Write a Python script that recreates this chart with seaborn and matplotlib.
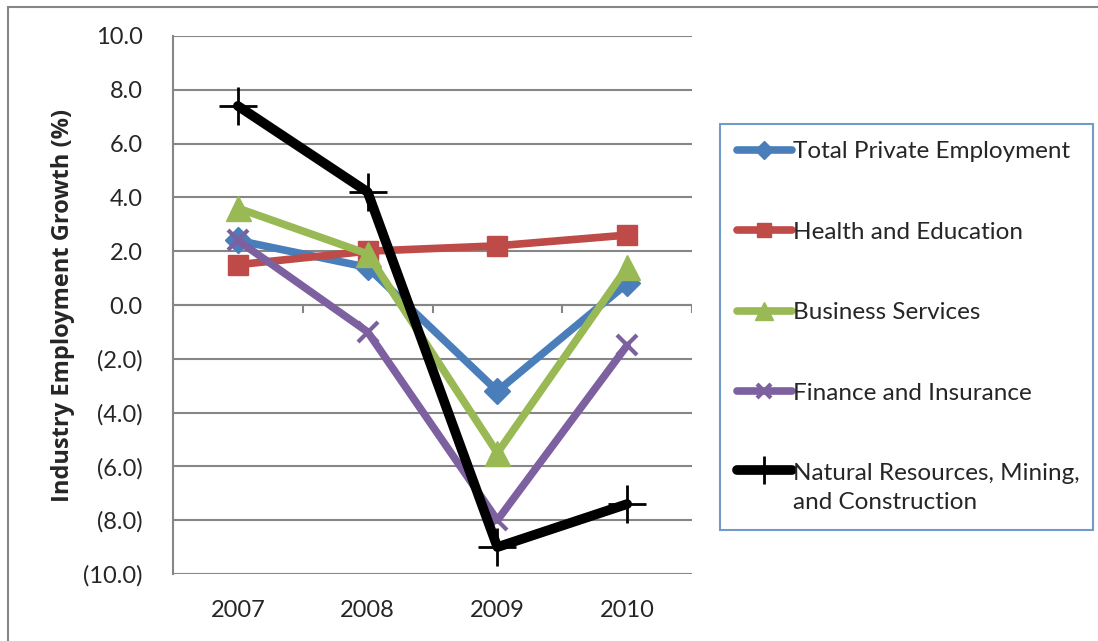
import pandas as pd
import matplotlib.pyplot as plt
import seaborn as sns
from matplotlib.patches import Rectangle
from matplotlib.legend_handler import HandlerLine2D

years = ['2007', '2008', '2009', '2010']
total_private = [2.4, 1.4, -3.2, 0.8]
health_edu = [1.5, 2.0, 2.2, 2.6]
business = [3.6, 1.9, -5.5, 1.4]
finance = [2.4, -1.0, -8.0, -1.5]
natural = [7.4, 4.2, -9.0, -7.4]

series_names = ['Total Private Employment', 'Health and Education', 'Business Services',
                'Finance and Insurance', 'Natural Resources, Mining,\nand Construction']
series_values = [total_private, health_edu, business, finance, natural]

# style per series: colour, marker, markersize, line width, marker edge width
styles = [
    ('#4A7EBB', 'D', 13, 5.5, 1.0),
    ('#BE4B48', 's', 15, 5.5, 1.0),
    ('#98B954', '^', 18, 5.5, 1.0),
    ('#7D60A0', 'x', 15, 5.5, 3.0),
    ('#000000', '+', 28, 7.0, 2.0),
]

LEG_LINESPACING = 1.45


class FirstLineHandler(HandlerLine2D):
    # put the legend line next to the first line of a two-line label
    def create_artists(self, legend, orig_handle, xdescent, ydescent, width, height, fontsize, trans):
        return super().create_artists(legend, orig_handle, xdescent,
                                      ydescent - LEG_LINESPACING * fontsize,
                                      width, height, fontsize, trans)


sns.set_style('white')
plt.rcParams['font.family'] = ['Lato', 'DejaVu Sans']

fig = plt.figure(figsize=(10.98, 6.41), dpi=100)
ax = fig.add_axes([173 / 1098, 1 - 574 / 641, (692 - 173) / 1098, (574 - 36) / 641])

for name, vals, (col, mk, ms, lw, mew) in zip(series_names, series_values, styles):
    df = pd.DataFrame({'year': years, 'growth': vals})
    sns.lineplot(data=df, x='year', y='growth', ax=ax, color=col, marker=mk,
                 markersize=ms, linewidth=lw, markeredgewidth=mew,
                 markeredgecolor=col, label=name, legend=False,
                 solid_joinstyle='round', solid_capstyle='round')

grid_col = '#868686'
ax.set_xlim(-0.5, 3.5)
ax.set_ylim(-10, 10)
ax.set_yticks(range(-10, 11, 2))
ax.set_yticklabels([f'{v:.1f}' if v >= 0 else f'({-v:.1f})' for v in range(-10, 11, 2)])
ax.yaxis.grid(True, color=grid_col, linewidth=1.5)
ax.set_axisbelow(True)
ax.tick_params(axis='y', length=8, width=1.5, color=grid_col, labelsize=17, pad=14)
ax.tick_params(axis='x', length=0, labelsize=17, pad=19)

for s in ['top', 'right', 'bottom']:
    ax.spines[s].set_visible(False)
ax.spines['left'].set_color(grid_col)
ax.spines['left'].set_linewidth(1.5)

# category axis sits at zero with boundary tick marks
ax.axhline(0, color=grid_col, linewidth=1.5, zorder=1)
ax.vlines([b - 0.5 for b in range(len(years) + 1)], -0.28, 0, color=grid_col, linewidth=1.5, zorder=1)

ax.set_xlabel('')
ax.set_ylabel('Industry Employment Growth (%)', fontsize=17, fontweight='bold',
              family=['Open Sans', 'DejaVu Sans'], labelpad=6)

handles, labels = ax.get_legend_handles_labels()
leg = fig.legend(handles, labels, loc='upper left',
                 bbox_to_anchor=(720 / 1098, 1 - 124 / 641, 373 / 1098, 0.0),
                 mode='expand', fontsize=17.5, frameon=True, fancybox=False,
                 handlelength=2.25, handletextpad=0.05, labelspacing=2.45,
                 borderpad=0.7, borderaxespad=0, markerscale=0.7,
                 handler_map={handles[-1]: FirstLineHandler()})
leg.get_texts()[-1].set_linespacing(LEG_LINESPACING)
leg.get_frame().set_edgecolor('#4F81BD')
leg.get_frame().set_linewidth(1.5)

fig.patches.append(Rectangle((8 / 1098, -0.1), 1.1, 1.1 - 7 / 641, transform=fig.transFigure,
                             fill=False, edgecolor=grid_col, linewidth=1.5))

fig.savefig('out.png', dpi=100)
